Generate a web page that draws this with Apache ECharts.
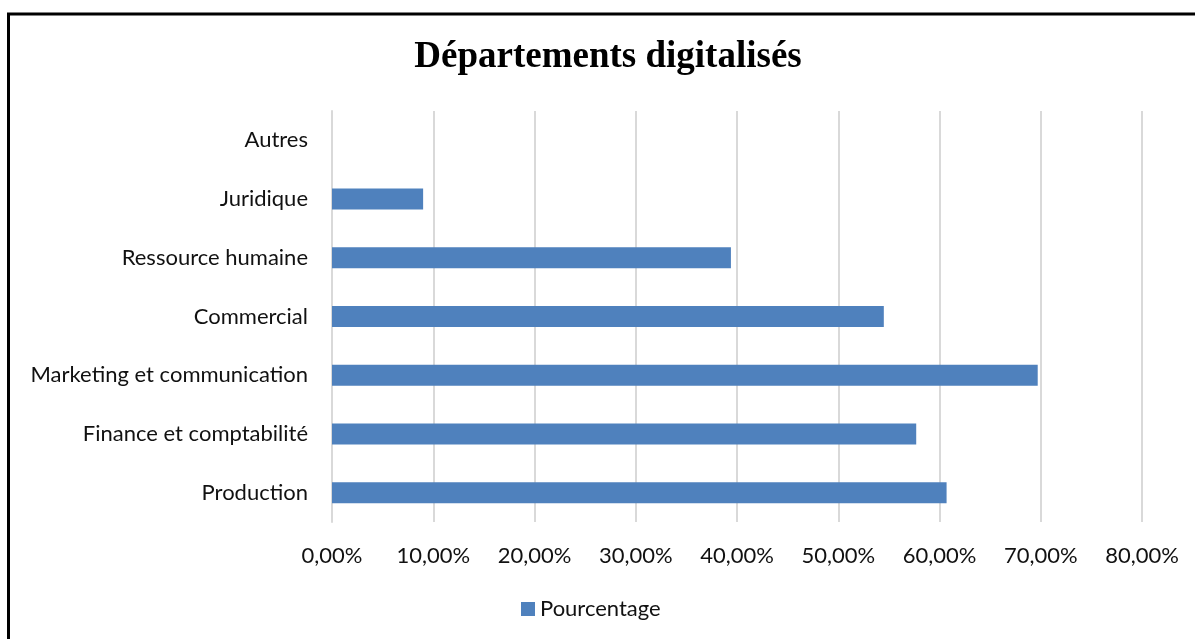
<!DOCTYPE html>
<html>
<head>
<meta charset="utf-8">
<script src="https://cdn.jsdelivr.net/npm/echarts@6/dist/echarts.min.js"></script>
<style>
  html, body { margin: 0; padding: 0; background: #fff; }
  #chart { width: 1195px; height: 639px; }
</style>
</head>
<body>
<div id="chart"></div>
<script>
// Departments, listed bottom to top as they appear on the axis
const categories = [
  'Production',
  'Finance et comptabilité',
  'Marketing et communication',
  'Commercial',
  'Ressource humaine',
  'Juridique',
  'Autres'
];
// Share of respondents per department, in percent
const pourcentage = [60.7, 57.7, 69.7, 54.5, 39.4, 9.0, 0];
// Value axis ticks, in percent
const tickValues = [0, 10, 20, 30, 40, 50, 60, 70, 80];

const chart = echarts.init(document.getElementById('chart'));
const labelFont = 'Lato, "Open Sans", sans-serif';
const textColor = '#111111';

chart.setOption({
  animation: false,
  backgroundColor: '#ffffff',
  graphic: [
    { type: 'line', shape: { x1: 7, y1: 14, x2: 1195, y2: 14 }, style: { stroke: '#000', lineWidth: 3 } },
    { type: 'line', shape: { x1: 8.5, y1: 13, x2: 8.5, y2: 639 }, style: { stroke: '#000', lineWidth: 3 } },
    {
      type: 'text', x: 608, y: 57,
      style: {
        text: 'Départements digitalisés',
        font: 'bold 37px "Liberation Serif", "Times New Roman", serif',
        fill: '#000', textAlign: 'center', textVerticalAlign: 'middle'
      }
    }
  ],
  legend: {
    data: ['Pourcentage'],
    left: 521,
    top: 598,
    padding: 0,
    itemWidth: 14,
    itemHeight: 14,
    icon: 'rect',
    textStyle: { fontFamily: labelFont, fontSize: 22, color: textColor }
  },
  grid: { left: 332, right: 53, top: 111, bottom: 117, containLabel: false },
  xAxis: {
    type: 'value',
    min: tickValues[0],
    max: tickValues[tickValues.length - 1],
    interval: tickValues[1] - tickValues[0],
    axisLine: { show: false },
    axisTick: { show: false },
    splitLine: { show: true, lineStyle: { color: '#d9d9d9', width: 2 } },
    axisLabel: {
      margin: 23,
      fontFamily: labelFont, fontSize: 22, color: textColor,
      formatter: v => v.toFixed(2).replace('.', ',') + '%'
    }
  },
  yAxis: {
    type: 'category',
    data: categories,
    axisLine: { show: true, lineStyle: { color: '#d9d9d9', width: 2 } },
    axisTick: { show: false },
    axisLabel: { margin: 24, fontFamily: labelFont, fontSize: 22, color: textColor }
  },
  series: [{
    name: 'Pourcentage',
    type: 'bar',
    data: pourcentage,
    barWidth: 21,
    itemStyle: { color: '#4f81bd' }
  }]
});
</script>
</body>
</html>
